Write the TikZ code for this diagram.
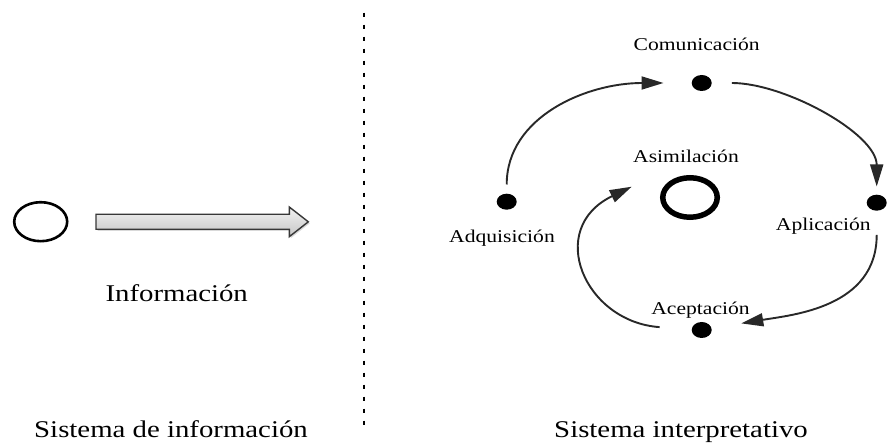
\documentclass[tikz,border=0pt]{standalone}
\usepackage{fontspec}
\setmainfont{Liberation Serif}[FakeStretch=1.2]
\usepackage{xcolor}
\definecolor{cyclegray}{RGB}{40,40,40}
\definecolor{flowedge}{RGB}{55,55,55}
\usetikzlibrary{arrows.meta}
\usetikzlibrary{shapes.geometric,shadows}
\tikzset{
  phasedot/.style={ellipse, fill=black, minimum width=20pt, minimum height=16pt, inner sep=0pt},
  corering/.style={ellipse, draw, line width=5.5pt, minimum width=54.5pt, minimum height=39.5pt, inner sep=0pt},
  phase/.style={font=\fontsize{18}{20}\selectfont, anchor=base, inner sep=0pt},
  bigtext/.style={font=\fontsize{24}{26}\selectfont, anchor=base, inner sep=0pt},
  cyclearrow/.style={draw=cyclegray, line width=1.9pt, -{Triangle[length=22pt,width=13pt]}},
}

\begin{document}
\begin{tikzpicture}[x=1pt,y=1pt]
  \useasboundingbox (0,0) rectangle (891,444);

  % sistema de informacion
  \node [ellipse, draw, line width=2.6pt, minimum width=53pt, minimum height=39pt] (info) at (40.7,222.3) {};
  \draw [draw=flowedge, line width=1.4pt, top color=gray!10, bottom color=gray!45,
    drop shadow={shadow xshift=1.5pt, shadow yshift=-1.5pt, opacity=0.3}]
    (96,214.7) -- (289.3,214.7) -- (289.3,207.3) -- (308.3,222.2)
    -- (289.3,237) -- (289.3,229.7) -- (96,229.7) -- cycle;
  \node [bigtext] (infolabel) at (176.7,142.3) {Información};
  \node [bigtext] (leftsys) at (171,6) {Sistema de información};

  \draw [line width=2.2pt, dash pattern=on 4.7pt off 7.3pt] (364,431.3) -- (364,14);

  % sistema interpretativo
  \node [phasedot] (com) at (701.7,361) {};
  \node [phasedot] (apl) at (876.7,241.3) {};
  \node [phasedot] (ace) at (701.7,114) {};
  \node [phasedot] (adq) at (506.7,242.3) {};
  \node [corering] (asim) at (690,246.5) {};
  \coordinate (asimin) at (631.7,257.3);

  \node [phase] (comlabel) at (696.7,393) {Comunicación};
  \node [phase] (asimlabel) at (686,281.3) {Asimilación};
  \node [phase] (adqlabel) at (502,201.3) {Adquisición};
  \node [phase] (apllabel) at (823.3,213.3) {Aplicación};
  \node [phase] (acelabel) at (700.5,129) {Aceptación};

  \draw [cyclearrow, shorten <=9pt, shorten >=28pt] (adq) .. controls +(0,85) and +(-115,0) .. (com);
  \draw [cyclearrow, shorten <=20pt, shorten >=8pt] (com) .. controls +(83,0) and +(0,69) .. (apl);
  \draw [cyclearrow, shorten <=24pt, shorten >=30pt] (apl) .. controls +(0,-105) and +(90,15) .. (ace);
  \draw [cyclearrow, shorten <=32pt] (ace) .. controls +(-117,8) and +(-87,-42) .. (asimin);

  \node [bigtext] (rightsys) at (681,6) {Sistema interpretativo};
\end{tikzpicture}
\end{document}
